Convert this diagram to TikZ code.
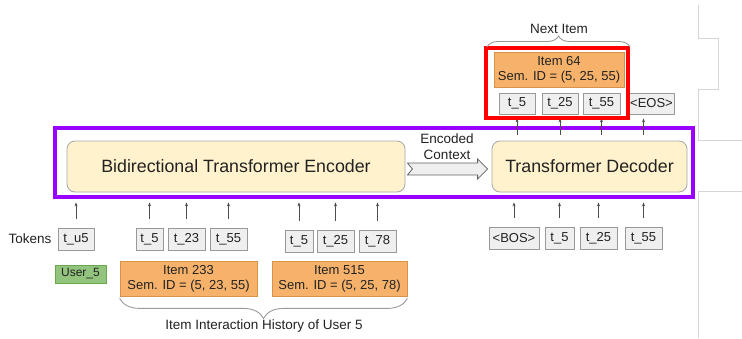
\documentclass[tikz,border=0pt]{standalone}
\usepackage{fontspec}
\setmainfont{Liberation Sans}
\usetikzlibrary{decorations.pathreplacing,calc,arrows.meta}
\definecolor{cream}{HTML}{FFF2CC}
\definecolor{creamline}{HTML}{A6A6A6}
\definecolor{orangefill}{HTML}{F6B26B}
\definecolor{orangeline}{HTML}{D9924A}
\definecolor{tokfill}{HTML}{EFEFEF}
\definecolor{tokline}{HTML}{999999}
\definecolor{greenfill}{HTML}{93C47D}
\definecolor{greenline}{HTML}{6AA84F}
\definecolor{purp}{HTML}{9900FF}
\definecolor{txt}{HTML}{222222}
\definecolor{slide}{HTML}{D6D6D6}
\begin{document}
\begin{tikzpicture}[x=1pt,y=-1pt,
  every node/.style={text=txt},
  tok/.style={draw=tokline,fill=tokfill,line width=0.8pt,inner sep=0pt,minimum height=22pt,font=\fontsize{13}{15}\selectfont},
  item/.style={draw=orangeline,fill=orangefill,line width=0.8pt,inner sep=0pt,minimum height=35pt,align=center,font=\fontsize{13}{15}\selectfont},
  block/.style={draw=creamline,fill=cream,line width=0.8pt,rounded corners=8pt,inner sep=0pt,minimum height=51pt,font=\fontsize{17.8}{20}\selectfont},
  lab/.style={font=\fontsize{13.5}{16}\selectfont,align=center},
  up/.style={-{Stealth[length=4pt,width=3pt]},draw=txt!80,line width=0.6pt},
  brc/.style={draw=tokline,line width=0.9pt,decorate},
  hl/.style={draw,line width=4pt,inner sep=0pt},
]
\useasboundingbox (0,0) rectangle (742,338);
% slide edge lines
\draw[slide,line width=0.8pt] (698,5) -- (698,38) -- (718,38) -- (718,89) -- (698,89) -- (698,140) -- (742,140);
\draw[slide,line width=0.8pt] (742,191) -- (698,191) -- (698,338);

% outer purple frame
\node[hl,draw=purp,minimum width=638pt,minimum height=69pt] (frame) at (374,162.5) {};
% blocks
\node[block,minimum width=338pt] (enc) at (236,166.5) {Bidirectional Transformer Encoder};
\node[block,minimum width=195pt] (dec) at (589.5,166.5) {Transformer Decoder};

% encoded context arrow
\coordinate (ca) at ($(enc.east)+(2,2.5)$);
\coordinate (cb) at ($(dec.west)+(-4,2.5)$);
\fill[tokfill] ($(ca)+(0,-6)$) -- ($(cb)+(-10,-6)$) -- ($(cb)+(-10,-10)$) -- (cb) -- ($(cb)+(-10,10)$) -- ($(cb)+(-10,6)$) -- ($(ca)+(0,6)$) -- ($(ca)+(5,0)$) -- cycle;
\draw[txt!70,line width=0.8pt] ($(ca)+(0,-6)$) -- ($(cb)+(-10,-6)$) -- ($(cb)+(-10,-10)$) -- (cb) -- ($(cb)+(-10,10)$) -- ($(cb)+(-10,6)$) -- ($(ca)+(0,6)$) -- ($(ca)+(5,0)$) -- cycle;
\node[lab,font=\fontsize{13.5}{16}\selectfont] (ctx) at (447,147) {Encoded\\Context};

% bottom tokens
\node[anchor=east,lab] (tokens) at (55,239) {Tokens};
\node[tok,minimum width=36pt] (tu) at (76,239.5) {t\_u5};
\node[tok,minimum width=27pt] (a1) at (149.5,239) {t\_5};
\node[tok,minimum width=37pt] (a2) at (186.5,239) {t\_23};
\node[tok,minimum width=37pt] (a3) at (228.5,239) {t\_55};
\node[tok,minimum width=28pt] (b1) at (299,241) {t\_5};
\node[tok,minimum width=37pt] (b2) at (335.5,241) {t\_25};
\node[tok,minimum width=37pt] (b3) at (377.5,241) {t\_78};
\node[tok,minimum width=50pt] (bos) at (514,238) {<BOS>};
\node[tok,minimum width=29pt] (d1) at (559.5,238) {t\_5};
\node[tok,minimum width=37pt] (d2) at (598.5,238) {t\_25};
\node[tok,minimum width=37pt] (d3) at (643.5,238) {t\_55};

\foreach \n in {tu,a1,a2,a3,b1,b2,b3}
  \draw[up,shorten <=9pt,shorten >=10pt] (\n.north) -- (\n.north |- enc.south);
\foreach \n in {bos,d1,d2,d3}
  \draw[up,shorten <=9pt,shorten >=10pt] (\n.north) -- (\n.north |- dec.south);

% user and items
\node[draw=greenline,fill=greenfill,line width=0.8pt,inner sep=0pt,minimum width=51pt,minimum height=18pt,font=\fontsize{12}{13}\selectfont] (user) at (80.5,274) {User\_5};
\node[item,minimum width=137pt] (i233) at (188.5,278.5) {Item 233\\Sem. ID = (5, 23, 55)};
\node[item,minimum width=135pt] (i515) at (339.5,278.5) {Item 515\\Sem. ID = (5, 25, 78)};
\draw[brc,decoration={brace,amplitude=20pt}] ($(i515.south east)+(0,2)$) -- ($(i233.south west)+(0,2)$);
\node[lab] (hist) at (264,326) {Item Interaction History of User 5};

% top outputs
\node[item,minimum width=130pt] (i64) at (559,69.5) {Item 64\\Sem. ID = (5, 25, 55)};
\node[tok,minimum width=36pt,minimum height=21pt] (e1) at (517,103.5) {t\_5};
\node[tok,minimum width=36pt,minimum height=21pt] (e2) at (560,103.5) {t\_25};
\node[tok,minimum width=37pt,minimum height=21pt] (e3) at (601.5,103.5) {t\_55};
\node[tok,minimum width=45pt,minimum height=21pt] (eos) at (651.5,103.5) {<EOS>};
\foreach \n in {e1,e2,e3}
  \draw[up,shorten <=6pt,shorten >=4pt] (\n.south |- dec.north) -- (\n.south);
\draw[up,shorten <=6pt,shorten >=4pt] (d3.north |- dec.north) -- (d3.north |- eos.south);

\node[hl,draw=red,minimum width=142pt,minimum height=70pt] (sel) at (557,83) {};
\draw[brc,decoration={brace,amplitude=11pt}] ($(sel.north west)+(3,1)$) -- ($(sel.north east)+(0,1)$);
\node[lab] (next) at (559,29) {Next Item};
\end{tikzpicture}
\end{document}
